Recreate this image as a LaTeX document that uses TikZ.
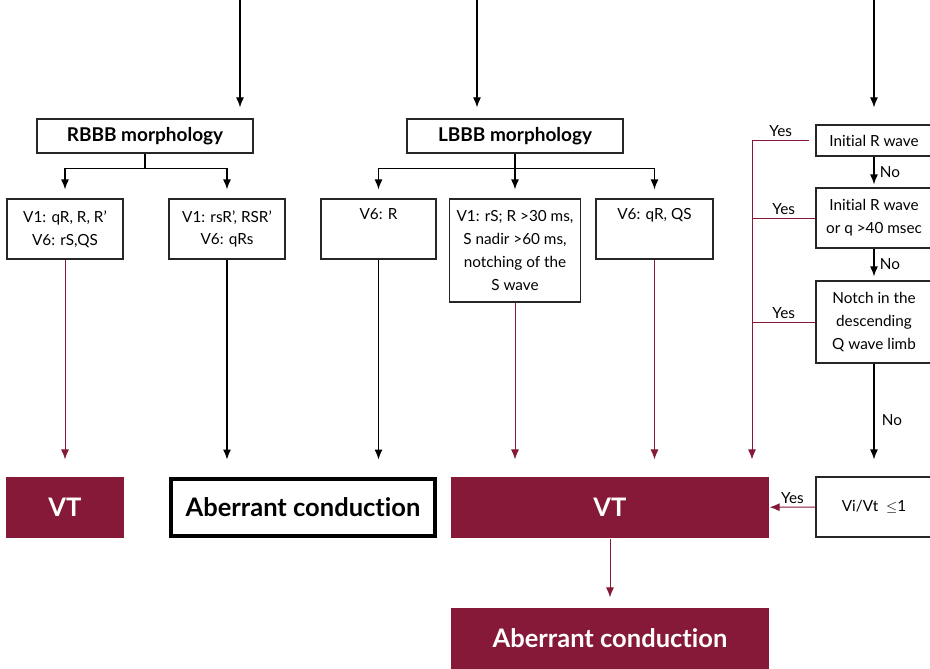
\documentclass[tikz,border=0pt]{standalone}
\usepackage{fontspec}
\setmainfont{Lato}[Ligatures=NoCommon]
\usetikzlibrary{arrows.meta,positioning,calc}
\definecolor{vtred}{HTML}{851937}

\begin{document}
\begin{tikzpicture}[>={Latex[length=10pt,width=8pt]},x=1pt,y=-1pt,line width=1.2pt,
  font=\fontsize{15.3}{22.8}\selectfont,
  box/.style={draw=black!85,align=center,inner sep=2pt},
  head/.style={box,font=\fontsize{19}{20}\selectfont\bfseries},
  vt/.style={fill=vtred,text=white,align=center,font=\fontsize{25.5}{28}\selectfont\bfseries},
  redline/.style={vtred,line width=1pt},
  yes/.style={text=black,above}]
\useasboundingbox (0,0) rectangle (930,669);
% morphology heads
\node[head,minimum width=216,minimum height=34] (rbbb) at (145,136) {RBBB morphology};
\node[head,minimum width=216,minimum height=34] (lbbb) at (515,136) {LBBB morphology};
% criteria boxes
\node[box,minimum width=116,minimum height=60] (ra) at (65,229) {V1: qR, R, R’\\V6: rS,QS};
\node[box,minimum width=116,minimum height=60] (rb) at (227,229) {V1: rsR’, RSR’\\V6: qRs};
\node[box,minimum width=115,minimum height=60] (la) at (378.5,229) {V6: R\\\strut};
\node[box,minimum width=131,minimum height=103] (lb) at (515,250.5) {V1: rS; R >30 ms,\\S nadir >60 ms,\\notching of the\\S wave};
\node[box,minimum width=117,minimum height=60] (lc) at (654.5,229) {V6: qR, QS\\\strut};
% right column
\node[box,minimum width=116,minimum height=31] (q1) at (874,140.5) {Initial R wave};
\node[box,minimum width=116,minimum height=60] (q2) at (874,218) {Initial R wave\\or q >40 msec};
\node[box,minimum width=116,minimum height=82] (q3) at (874,322) {Notch in the\\descending\\Q wave limb};
\node[box,minimum width=116,minimum height=60] (q4) at (874,507) {Vi/Vt\ \ $\leq$1};
% outcomes
\node[vt,minimum width=118,minimum height=61] (vt1) at (65,507.5) {VT};
\node[draw,line width=4pt,minimum width=264,minimum height=57,font=\fontsize{25.5}{28}\selectfont\bfseries] (ab1) at (303,507) {Aberrant conduction};
\node[vt,minimum width=318,minimum height=61] (vt2) at (610,507.5) {VT};
\node[vt,minimum width=318,minimum height=61] (ab2) at (610,638.5) {Aberrant conduction};

\coordinate (t1) at (240,0);
\coordinate (t2) at (477,0);
\coordinate (t3) at (874,0);
\coordinate (bus) at (752,0);

\foreach \t/\n in {t1/rbbb,t2/lbbb} \draw[->,shorten >=11] (\t) -- (\t |- \n.north);
\draw[->,shorten >=17] (t3) -- (q1);
\foreach \c in {ra,rb} \draw[->,shorten >=9] (rbbb.south) -- ++(0,15) -| (\c.north);
\foreach \c in {la,lb,lc} \draw[->,shorten >=9] (lbbb.south) -- ++(0,15) -| (\c.north);

\draw[redline,->,shorten >=17] (ra) -- (vt1);
\foreach \c in {rb,la} \draw[->,shorten >=17] (\c.south) -- (\c.south |- ab1.north);
\foreach \c in {lb,lc} \draw[redline,->,shorten >=17] (\c.south) -- (\c.south |- vt2.north);

\draw[->,shorten >=3] (q1) -- (q2) node[midway,right=2pt]{No};
\draw[->,shorten >=4] (q2) -- (q3) node[midway,right=2pt]{No};
\draw[->,shorten >=17] (q3) -- (q4) node[midway,right=4pt]{No};

\draw[redline,->,shorten >=17] ([xshift=-6pt]q1.west) -- (q1.west -| bus) node[midway,yes]{Yes} -- (bus |- vt2.north);
\foreach \q in {q2,q3} \draw[redline] (\q.west) -- (\q.west -| bus) node[midway,yes]{Yes};
\draw[redline,->] (q4) -- (vt2) node[midway,yes]{Yes};
\draw[redline,->,shorten >=10] (vt2) -- (ab2);
\end{tikzpicture}
\end{document}
